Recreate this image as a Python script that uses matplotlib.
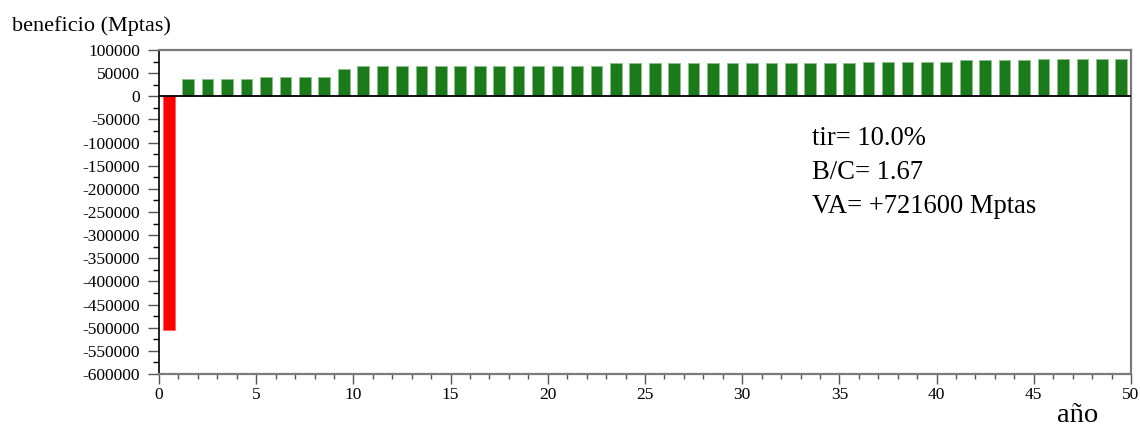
import numpy as np
import matplotlib
matplotlib.use('Agg')
import matplotlib.pyplot as plt
from matplotlib.ticker import MultipleLocator

plt.rcParams['font.family'] = 'Liberation Serif'
plt.rcParams['axes.unicode_minus'] = False

# beneficio anual (Mptas), año 0 = inversión
anios = np.arange(0, 50)
beneficio = ([-505000]
             + [37000] * 4
             + [42000] * 4
             + [58000]
             + [65000] * 10
             + [66500] * 3
             + [71000] * 2
             + [72500] * 11
             + [74000] * 5
             + [77500] * 4
             + [80000] * 5)

yticks = np.arange(-600000, 100001, 50000)
xticks = np.arange(0, 51, 5)

lineas = ['tir= 10.0%', 'B/C= 1.67', 'VA= +721600 Mptas']

colores = ['#ff0000' if v < 0 else '#1b7b1b' for v in beneficio]
bordes = ['#ff6060' if v < 0 else '#8cc08c' for v in beneficio]

fig = plt.figure(figsize=(11.4, 4.29), dpi=100)
ax = fig.add_axes([159/1140, 1-374/429, 972/1140, 324/429])

ax.bar(anios + 0.5, beneficio, width=0.6, color=colores, edgecolor=bordes,
       linewidth=0.6, zorder=2)
ax.axhline(0, color='black', lw=1.3, zorder=3)

ax.set_xlim(0, 50)
ax.set_ylim(-600000, 100000)
ax.set_yticks(yticks)
ax.set_yticklabels([str(t) for t in yticks])
ax.set_xticks(xticks)
ax.set_xticklabels([str(t) for t in xticks])
ax.yaxis.set_minor_locator(MultipleLocator(25000))
ax.xaxis.set_minor_locator(MultipleLocator(1))

ax.tick_params(axis='y', which='major', length=8, width=1, pad=5.5,
               labelsize=12.5, color='#555555')
ax.tick_params(axis='y', which='minor', length=4.3, width=1, color='black')
ax.tick_params(axis='x', which='major', length=7, width=1, pad=2.5,
               labelsize=12.5, color='#555555')
ax.tick_params(axis='x', which='minor', length=3.6, width=1, color='#555555')

ax.spines['left'].set_color('black')
ax.spines['left'].set_linewidth(1.2)
for s in ['top', 'right', 'bottom']:
    ax.spines[s].set_color('#7a7a7a')
    ax.spines[s].set_linewidth(1.6)

for i, t in enumerate(lineas):
    ax.text(0.672, 0.707 - i*0.105, t, transform=ax.transAxes,
            fontsize=19.2, va='baseline', ha='left')

fig.text(12/1140, 1-31/429, 'beneficio (Mptas)', fontsize=16,
         va='baseline', ha='left')
fig.text(1078/1140, 1/429, 'año', fontsize=20.5, va='bottom', ha='center')

fig.savefig('out.png', dpi=100)
